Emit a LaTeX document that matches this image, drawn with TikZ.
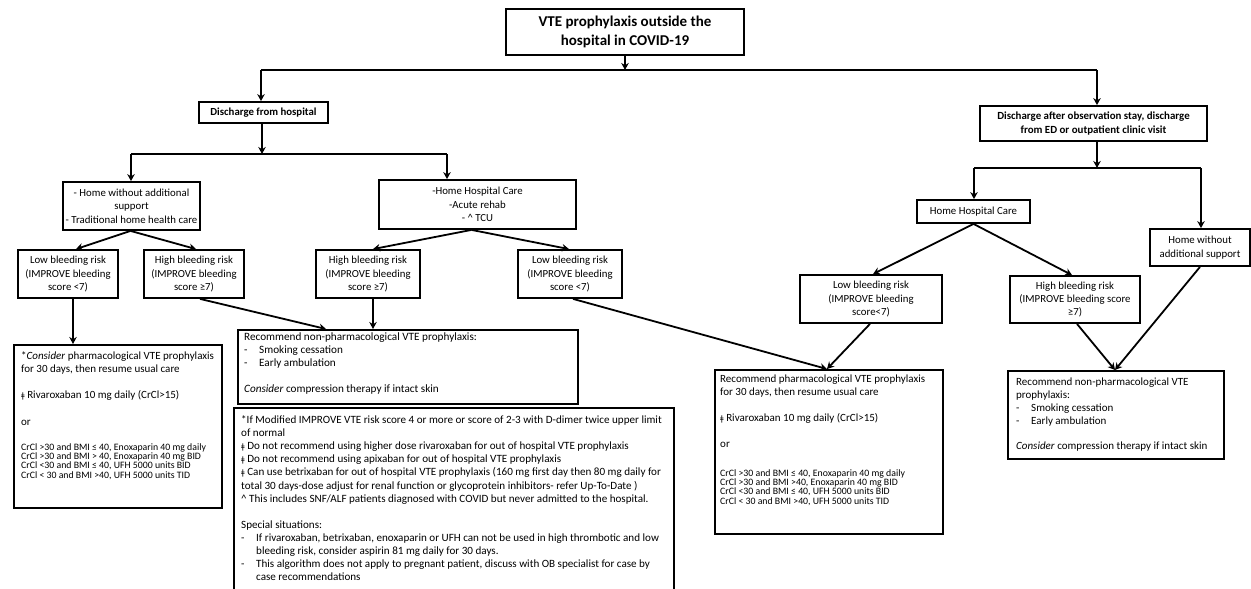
\documentclass[tikz,border=0pt]{standalone}
\usepackage{fontspec}
\setmainfont{Carlito}
\newfontfamily\dvs{DejaVu Sans}
\usetikzlibrary{arrows.meta}
\newcommand{\dg}{{\dvs\fontsize{7.8}{7.8}\selectfont ǂ}}
\newcommand{\dsh}[1]{\makebox[#1][l]{-}}
\tikzset{
  bx/.style={draw, line width=1.8pt, inner sep=0pt, align=center, font=\fontsize{10.8}{13.4}\selectfont},
  frame/.style={draw, line width=1.8pt, inner sep=0pt, anchor=north west},
  txt/.style={inner sep=0pt, anchor=north west, align=left, font=\fontsize{11}{13}\selectfont},
  crcl/.style={inner sep=0pt, anchor=north west, align=left, font=\fontsize{9.8}{9.4}\selectfont},
  arr/.style={line width=1.8pt, -{Stealth[length=7pt,width=7.5pt]}},
  ln/.style={line width=1.8pt},
}
\begin{document}
\begin{tikzpicture}[x=1pt,y=-1pt]
\useasboundingbox (0,0) rectangle (1251,589);
\begin{scope}
\clip (0,0) rectangle (1251,589);
% top
\node[bx, font=\bfseries\fontsize{15}{19}\selectfont, minimum width=238pt, minimum height=46pt] (title) at (625,32) {VTE prophylaxis outside the\\hospital in COVID-19};
\node[bx, font=\bfseries\fontsize{10.8}{13}\selectfont, minimum width=129pt, minimum height=21pt] (dh) at (263.5,112.5) {Discharge from hospital};
\node[bx, font=\bfseries\fontsize{10.9}{14}\selectfont, minimum width=227pt, minimum height=35pt] (dr) at (1093.5,123.5) {Discharge after observation stay, discharge\\from ED or outpatient clinic visit};
\coordinate (j0) at (625,70);
\coordinate (j0l) at (261,70);
\coordinate (j0r) at (1097,70);
\draw[arr] (title.south) -- (j0);
\draw[ln] (j0l) -- (j0r);
\draw[arr] (j0l) -- (dh.north -| j0l);
\draw[arr] (j0r) -- (dr.north -| j0r);

% left group
\node[bx, minimum width=137pt, minimum height=48pt] (A) at (131.5,206) {- Home without additional\\support\\- Traditional home health care};
\node[bx, minimum width=197pt, minimum height=49pt] (B) at (477.5,204.5) {-Home Hospital Care\\-Acute rehab\\- \textasciicircum{} TCU};
\coordinate (j1) at (262,154);
\coordinate (j1l) at (131,154);
\coordinate (j1r) at (447,154);
\draw[arr] (dh.south -| j1) -- (j1);
\draw[ln] (j1l) -- (j1r);
\draw[arr] (j1l) -- (A.north -| j1l);
\draw[arr] (j1r) -- (B.north -| j1r);

\node[bx, minimum width=100pt, minimum height=48pt] (b1) at (68,274) {Low bleeding risk\\(IMPROVE bleeding\\score <7)};
\node[bx, minimum width=100pt, minimum height=48pt] (b2) at (194,274) {High bleeding risk\\(IMPROVE bleeding\\score ≥7)};
\node[bx, minimum width=104pt, minimum height=48pt] (b3) at (368,274) {High bleeding risk\\(IMPROVE bleeding\\score ≥7)};
\node[bx, minimum width=104pt, minimum height=48pt] (b4) at (570,274) {Low bleeding risk\\(IMPROVE bleeding\\score <7)};
\draw[arr] ([xshift=-1pt]A.south) -- ([xshift=8pt]b1.north);
\draw[arr] ([xshift=-1pt]A.south) -- ([xshift=2pt]b2.north);
\draw[arr] ([xshift=-6pt]B.south) -- ([xshift=5pt]b3.north);
\draw[arr] ([xshift=-6pt]B.south) -- ([xshift=-1pt]b4.north);

% right group
\node[bx, minimum width=113pt, minimum height=23pt] (HHC) at (973.5,211.5) {Home Hospital Care};
\node[bx, minimum width=100pt, minimum height=37pt] (HW) at (1200,247.5) {Home without\\additional support};
\coordinate (j2) at (1097,168);
\coordinate (j2l) at (974,168);
\coordinate (j2r) at (1201,168);
\draw[arr] (dr.south -| j2) -- (j2);
\draw[ln] (j2l) -- (j2r);
\draw[arr] (j2l) -- (HHC.north -| j2l);
\draw[arr] (j2r) -- (HW.north -| j2r);
\node[bx, minimum width=142pt, minimum height=48pt] (LR) at (871,299) {Low bleeding risk\\(IMPROVE bleeding\\score<7)};
\node[bx, minimum width=130pt, minimum height=47pt] (HR) at (1075,299.5) {High bleeding risk\\(IMPROVE bleeding score\\≥7)};
\draw[arr] (HHC.south) -- ([xshift=2pt]LR.north);
\draw[arr] (HHC.south) -- ([xshift=-3pt]HR.north);

% result boxes
\node[frame, minimum width=208pt, minimum height=163pt] (L) at (13,344) {};
\node[frame, minimum width=340pt, minimum height=74pt] (NP1) at (237,329) {};
\node[frame, minimum width=440pt, minimum height=200pt] (FN) at (233,407) {};
\node[frame, minimum width=228pt, minimum height=164pt] (PH) at (714,369) {};
\node[frame, minimum width=216pt, minimum height=88pt] (NP2) at (1007,370) {};

\draw[arr] ([xshift=5pt]b1.south) -- ([xshift=5pt]b1.south |- L.north);
\draw[arr] ([xshift=6pt]b2.south) -- ([xshift=89pt]NP1.north west);
\draw[arr] ([xshift=5pt]b3.south) -- ([xshift=136pt]NP1.north west);
\draw[arr] ([xshift=3pt]b4.south) -- ([xshift=113pt]PH.north west);
\draw[arr] ([xshift=-1pt]LR.south) -- ([xshift=113pt]PH.north west);
\draw[arr] ([xshift=2pt]HR.south) -- ([xshift=108pt]NP2.north west);
\draw[arr] (HW.south) -- ([xshift=108pt]NP2.north west);

% texts
\node[txt, font=\fontsize{11}{13.3}\selectfont] (Lt) at (21,351) {*\textit{Consider} pharmacological VTE prophylaxis\\for 30 days, then resume usual care\\[13.3pt]\dg{} Rivaroxaban 10 mg daily (CrCl>15)\\[13.3pt]or};
\node[crcl] (Lc) at (21,443) {CrCl >30 and BMI ≤ 40, Enoxaparin 40 mg daily\\CrCl >30 and BMI > 40, Enoxaparin 40 mg BID\\CrCl <30 and BMI ≤ 40, UFH 5000 units BID\\CrCl < 30 and BMI >40, UFH 5000 units TID};

\node[txt] (PHt) at (720,375) {Recommend pharmacological VTE prophylaxis\\for 30 days, then resume usual care\\[13pt]\dg{} Rivaroxaban 10 mg daily (CrCl>15)\\[13pt]or};
\node[crcl] (PHc) at (720,469) {CrCl >30 and BMI ≤ 40, Enoxaparin 40 mg daily\\CrCl >30 and BMI >40, Enoxaparin 40 mg BID\\CrCl <30 and BMI ≤ 40, UFH 5000 units BID\\CrCl < 30 and BMI >40, UFH 5000 units TID};

\node[txt, font=\fontsize{11.2}{13}\selectfont] (NP1t) at (244,333) {Recommend non-pharmacological VTE prophylaxis:\\\dsh{15pt}Smoking cessation\\\dsh{15pt}Early ambulation\\[13pt]\textit{Consider} compression therapy if intact skin};

\node[txt, font=\fontsize{11}{12.8}\selectfont] (NP2t) at (1016,378) {Recommend non-pharmacological VTE\\prophylaxis:\\\dsh{15pt}Smoking cessation\\\dsh{15pt}Early ambulation\\[12.8pt]\textit{Consider} compression therapy if intact skin};

\node[txt, font=\fontsize{11.1}{13.1}\selectfont] (FNt) at (241,415.5) {*If Modified IMPROVE VTE risk score 4 or more or score of 2-3 with D-dimer twice upper limit\\of normal\\\dg{} Do not recommend using higher dose rivaroxaban for out of hospital  VTE prophylaxis\\\dg{} Do not recommend  using apixaban for out of hospital VTE prophylaxis\\\dg{} Can use betrixaban for out of hospital VTE prophylaxis (160 mg first day then 80 mg daily for\\total 30 days-dose adjust for renal function or glycoprotein inhibitors- refer  Up-To-Date )\\\textasciicircum{} This includes SNF/ALF patients diagnosed with COVID but never admitted to the hospital.\\[13.1pt]Special situations:\\\dsh{15pt}If rivaroxaban, betrixaban, enoxaparin or UFH  can not be used in high thrombotic and low\\\hspace*{15pt}bleeding risk, consider aspirin 81 mg daily for 30 days.\\\dsh{15pt}This algorithm does not apply to pregnant patient, discuss with OB specialist for case by\\\hspace*{15pt}case recommendations};
\end{scope}
\end{tikzpicture}
\end{document}
